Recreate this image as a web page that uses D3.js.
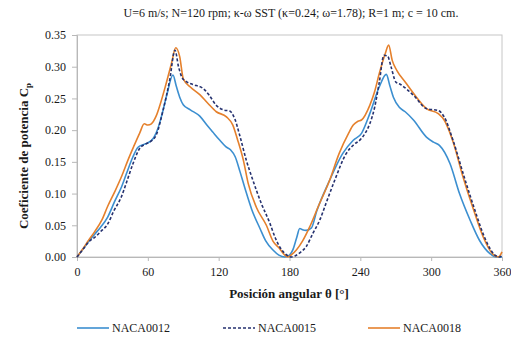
<!DOCTYPE html>
<html>
<head>
<meta charset="utf-8">
<script src="https://cdn.jsdelivr.net/npm/d3@7"></script>
<style>
  body { margin: 0; background: #fff; }
</style>
</head>
<body>
<div id="chart"></div>
<script>
// values
const xTicks = [0, 60, 120, 180, 240, 300, 360];
const yTicks = [0, 0.05, 0.10, 0.15, 0.20, 0.25, 0.30, 0.35];

const theta0012 = [0, 5, 10, 15, 20, 26, 32, 37.6, 42, 47.4, 51.7, 56, 60, 65, 68.6, 72, 76, 81.3, 84, 87, 90, 96, 104, 110, 115, 121, 126, 130, 134, 138, 142, 148, 155, 160, 166, 171, 176, 180, 183, 186, 188.7, 191, 194, 198.6, 203, 214, 225, 234, 241, 248, 256, 262, 265, 268, 273, 278, 285, 296, 302, 307, 316, 324, 333, 341, 350, 355, 360];
const cp0012 = [0, 0.012, 0.025, 0.036, 0.047, 0.063, 0.088, 0.110, 0.132, 0.158, 0.173, 0.177, 0.180, 0.188, 0.203, 0.225, 0.255, 0.287, 0.270, 0.252, 0.240, 0.232, 0.222, 0.208, 0.197, 0.184, 0.174, 0.169, 0.158, 0.135, 0.110, 0.075, 0.045, 0.025, 0.011, 0.003, 0, 0.003, 0.012, 0.030, 0.045, 0.043, 0.042, 0.046, 0.072, 0.121, 0.163, 0.184, 0.195, 0.226, 0.268, 0.288, 0.270, 0.252, 0.236, 0.229, 0.216, 0.189, 0.181, 0.176, 0.147, 0.100, 0.058, 0.026, 0.005, 0, 0];

const theta0015 = [0, 5, 10, 15, 20, 26.3, 31, 37.6, 42, 47.4, 53, 58, 63, 67, 73, 78.5, 83, 86, 89, 93, 98, 106.7, 112, 118, 124, 129.4, 133.6, 137.8, 143.5, 149, 156, 163, 168, 172, 177, 181, 185, 189, 194, 200, 205.6, 211, 218.3, 228, 235, 240, 244, 248, 252, 256, 260, 263, 266, 270, 274, 285, 296, 306, 311, 318.5, 328, 337, 345, 354, 358, 360];
const cp0015 = [0, 0.012, 0.024, 0.031, 0.040, 0.053, 0.072, 0.095, 0.118, 0.147, 0.171, 0.178, 0.183, 0.192, 0.232, 0.279, 0.326, 0.300, 0.283, 0.276, 0.272, 0.266, 0.255, 0.239, 0.232, 0.230, 0.218, 0.192, 0.152, 0.121, 0.085, 0.055, 0.030, 0.015, 0.004, 0, 0.002, 0.007, 0.016, 0.038, 0.058, 0.085, 0.121, 0.163, 0.178, 0.185, 0.195, 0.210, 0.235, 0.275, 0.318, 0.317, 0.300, 0.276, 0.272, 0.255, 0.234, 0.231, 0.221, 0.184, 0.126, 0.074, 0.032, 0.003, 0, 0.002];

const theta0018 = [0, 5, 10, 15, 21, 26, 32, 38, 43, 48, 53, 57, 60, 63, 67, 71, 75, 80, 83.6, 87, 90, 96, 104, 111, 118, 126.6, 132, 136, 141, 145, 152, 160.4, 166, 171.7, 175.5, 178.7, 182, 185.8, 191, 197, 204, 214, 222, 230, 234, 238, 241, 248, 252, 256, 261, 264, 267, 271, 278, 285, 296, 306, 311, 315, 319, 327, 336, 344, 352, 357, 360];
const cp0018 = [0, 0.013, 0.027, 0.040, 0.058, 0.080, 0.103, 0.128, 0.152, 0.174, 0.195, 0.210, 0.208, 0.210, 0.222, 0.244, 0.270, 0.305, 0.330, 0.316, 0.281, 0.268, 0.256, 0.242, 0.229, 0.221, 0.208, 0.185, 0.152, 0.116, 0.078, 0.050, 0.025, 0.013, 0.004, 0, 0.004, 0.011, 0.025, 0.047, 0.078, 0.121, 0.163, 0.195, 0.208, 0.214, 0.216, 0.239, 0.260, 0.289, 0.320, 0.334, 0.310, 0.294, 0.276, 0.258, 0.234, 0.226, 0.216, 0.200, 0.179, 0.126, 0.074, 0.032, 0.005, 0, 0.008];

const seriesNames = ['NACA0012', 'NACA0015', 'NACA0018'];

const FONT = '"Liberation Serif", "Times New Roman", Times, "DejaVu Serif", serif';

const W = 511, H = 337;
const margin = { top: 35, right: 9, bottom: 80, left: 77 };
const width = W - margin.left - margin.right;
const height = H - margin.top - margin.bottom;

const svg = d3.select('#chart').append('svg')
  .attr('width', W)
  .attr('height', H)
  .attr('font-family', FONT);

const g = svg.append('g')
  .attr('transform', `translate(${margin.left},${margin.top})`);

const xScale = d3.scaleLinear().domain([0, 360]).range([0, width]);
const yScale = d3.scaleLinear().domain([0, 0.35]).range([height, 0]);

// plot frame
g.append('rect')
  .attr('width', width).attr('height', height)
  .attr('fill', 'none').attr('stroke', '#c6c6c6').attr('stroke-width', 1);

const xAxis = g.append('g')
  .attr('transform', `translate(0,${height})`)
  .call(d3.axisBottom(xScale).tickValues(xTicks).tickSize(4).tickPadding(6));
const yAxis = g.append('g')
  .call(d3.axisLeft(yScale).tickValues(yTicks).tickFormat(d3.format('.2f')).tickSize(5).tickPadding(6));

[xAxis, yAxis].forEach(a => {
  a.attr('font-family', FONT).attr('font-size', 12);
  a.select('.domain').attr('stroke', '#b8b8b8');
  a.selectAll('.tick line').attr('stroke', '#b8b8b8');
  a.selectAll('.tick text').attr('fill', '#1a1a1a');
});

const series = [
  { name: seriesNames[0], theta: theta0012, cp: cp0012, color: '#3c8fd0', dash: null },
  { name: seriesNames[1], theta: theta0015, cp: cp0015, color: '#25316f', dash: '3,2' },
  { name: seriesNames[2], theta: theta0018, cp: cp0018, color: '#e5802c', dash: null }
];

const line = d3.line()
  .x(d => xScale(d[0]))
  .y(d => yScale(d[1]))
  .curve(d3.curveMonotoneX);

const drawOrder = [0, 2, 1];
drawOrder.forEach(i => {
  const s = series[i];
  g.append('path')
    .datum(s.theta.map((t, k) => [t, s.cp[k]]))
    .attr('d', line)
    .attr('fill', 'none')
    .attr('stroke', s.color)
    .attr('stroke-width', 1.6)
    .attr('stroke-dasharray', s.dash);
});

// titles
svg.append('text')
  .attr('x', 291).attr('y', 17)
  .attr('text-anchor', 'middle')
  .attr('font-size', 12).attr('fill', '#1a1a1a')
  .text('U=6 m/s; N=120 rpm; κ-ω SST (κ=0.24; ω=1.78); R=1 m; c = 10 cm.');

svg.append('text')
  .attr('x', 289).attr('y', 298)
  .attr('text-anchor', 'middle')
  .attr('font-size', 13).attr('font-weight', 'bold').attr('fill', '#1a1a1a')
  .text('Posición angular θ [°]');

const yTitle = svg.append('text')
  .attr('transform', 'translate(28,156) rotate(-90)')
  .attr('text-anchor', 'middle')
  .attr('font-size', 13).attr('font-weight', 'bold').attr('fill', '#1a1a1a');
yTitle.append('tspan').text('Coeficiente de potencia C');
yTitle.append('tspan').attr('dy', 3).attr('font-size', 9).text('p');

// legend
const legendX = [77, 223, 368];
series.forEach((s, i) => {
  const lg = svg.append('g').attr('transform', `translate(${legendX[i]},328)`);
  lg.append('line')
    .attr('x1', 0).attr('x2', 32).attr('y1', 0).attr('y2', 0)
    .attr('stroke', s.color).attr('stroke-width', 1.6)
    .attr('stroke-dasharray', s.dash);
  lg.append('text')
    .attr('x', 35).attr('y', 4)
    .attr('font-size', 12).attr('fill', '#1a1a1a')
    .text(s.name);
});
</script>
</body>
</html>
